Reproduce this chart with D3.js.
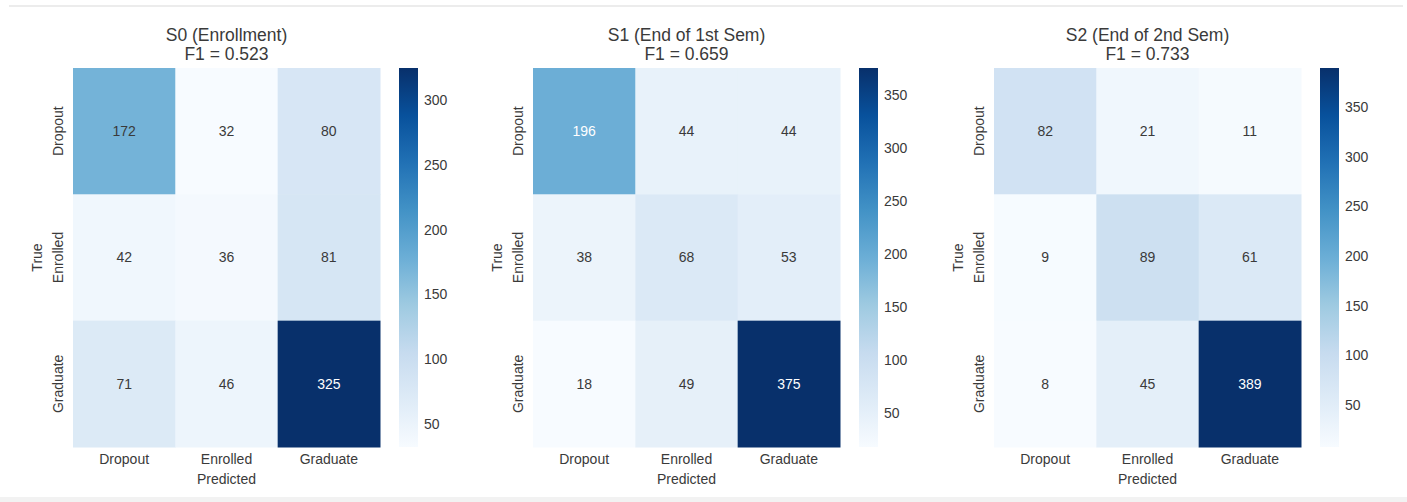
<!DOCTYPE html>
<html>
<head>
<meta charset="utf-8">
<script src="https://cdn.jsdelivr.net/npm/d3@7"></script>
<style>
  body { margin: 0; background: #fff; font-family: "Liberation Sans", Arial, sans-serif; }
  text { font-weight: normal; }
</style>
</head>
<body>
<div id="chart"></div>
<script>
// Datos de las matrices de confusión
var classes = ["Dropout", "Enrolled", "Graduate"];
var stageTitles = ["S0 (Enrollment)", "S1 (End of 1st Sem)", "S2 (End of 2nd Sem)"];
var f1Scores = ["0.523", "0.659", "0.733"];
var matrixS0 = [[172, 32, 80], [42, 36, 81], [71, 46, 325]];
var matrixS1 = [[196, 44, 44], [38, 68, 53], [18, 49, 375]];
var matrixS2 = [[82, 21, 11], [9, 89, 61], [8, 45, 389]];
var cbarTicksS0 = [50, 100, 150, 200, 250, 300];
var cbarTicksS1 = [50, 100, 150, 200, 250, 300, 350];
var cbarTicksS2 = [50, 100, 150, 200, 250, 300, 350];

var matrices = [matrixS0, matrixS1, matrixS2];
var cbarTicks = [cbarTicksS0, cbarTicksS1, cbarTicksS2];

// Paleta "Blues" (igual que matplotlib)
var bluesStops = ["#f7fbff", "#deebf7", "#c6dbef", "#9ecae1", "#6baed6", "#4292c6", "#2171b5", "#08519c", "#08306b"];
var blues = d3.scaleLinear()
    .domain(d3.range(9).map(function (i) { return i / 8; }))
    .range(bluesStops);

var W = 1407, H = 502;
var panelX = [73, 533, 994];
var marginTop = 68, hmW = 307, hmH = 379;
var cbarOffset = 326, cbarW = 19;
var textColor = "#3a3a3a";

var svg = d3.select("#chart").append("svg")
    .attr("width", W)
    .attr("height", H);

// marco gris claro de la captura
svg.append("rect").attr("x", 0).attr("y", 0).attr("width", W).attr("height", H).attr("fill", "#fff");
svg.append("line").attr("x1", 9).attr("x2", 1403).attr("y1", 6).attr("y2", 6)
    .attr("stroke", "#ececec").attr("stroke-width", 2);
svg.append("rect").attr("x", 0).attr("y", 497).attr("width", W).attr("height", 5).attr("fill", "#f2f2f2");

// luminancia relativa, para elegir el color del texto como seaborn
function luminance(c) {
    var rgb = d3.rgb(c);
    var ch = [rgb.r, rgb.g, rgb.b].map(function (v) {
        v = v / 255;
        return v <= 0.03928 ? v / 12.92 : Math.pow((v + 0.055) / 1.055, 2.4);
    });
    return 0.2126 * ch[0] + 0.7152 * ch[1] + 0.0722 * ch[2];
}

matrices.forEach(function (m, p) {
    var x0 = panelX[p];
    var g = svg.append("g").attr("transform", "translate(" + x0 + "," + marginTop + ")");

    var flat = d3.merge(m);
    var vmin = d3.min(flat), vmax = d3.max(flat);
    var color = d3.scaleLinear().domain([vmin, vmax]).range([0, 1]);

    var x = d3.scaleBand().domain(classes).range([0, hmW]);
    var y = d3.scaleBand().domain(classes).range([0, hmH]);

    var cells = [];
    m.forEach(function (row, i) {
        row.forEach(function (v, j) {
            cells.push({ t: classes[i], pr: classes[j], v: v });
        });
    });

    // celdas
    g.selectAll("rect.cell")
        .data(cells)
        .enter()
        .append("rect")
        .attr("class", "cell")
        .attr("x", function (d) { return x(d.pr); })
        .attr("y", function (d) { return y(d.t); })
        .attr("width", x.bandwidth() + 0.5)
        .attr("height", y.bandwidth() + 0.5)
        .attr("fill", function (d) { return blues(color(d.v)); });

    // anotaciones
    g.selectAll("text.annot")
        .data(cells)
        .enter()
        .append("text")
        .attr("class", "annot")
        .attr("x", function (d) { return x(d.pr) + x.bandwidth() / 2; })
        .attr("y", function (d) { return y(d.t) + y.bandwidth() / 2; })
        .attr("dy", "0.35em")
        .attr("text-anchor", "middle")
        .style("font-size", "14px")
        .attr("fill", function (d) { return luminance(blues(color(d.v))) > 0.408 ? textColor : "#fff"; })
        .text(function (d) { return d.v; });

    // etiquetas eje x
    g.selectAll("text.xtick")
        .data(classes)
        .enter()
        .append("text")
        .attr("class", "xtick")
        .attr("x", function (d) { return x(d) + x.bandwidth() / 2; })
        .attr("y", hmH + 17)
        .attr("text-anchor", "middle")
        .style("font-size", "14px")
        .attr("fill", textColor)
        .text(function (d) { return d; });

    g.append("text")
        .attr("x", hmW / 2)
        .attr("y", hmH + 37)
        .attr("text-anchor", "middle")
        .style("font-size", "14px")
        .attr("fill", textColor)
        .text("Predicted");

    // etiquetas eje y (rotadas)
    g.selectAll("text.ytick")
        .data(classes)
        .enter()
        .append("text")
        .attr("class", "ytick")
        .attr("transform", function (d) { return "translate(-10," + (y(d) + y.bandwidth() / 2) + ") rotate(-90)"; })
        .attr("text-anchor", "middle")
        .style("font-size", "14px")
        .attr("fill", textColor)
        .text(function (d) { return d; });

    g.append("text")
        .attr("transform", "translate(-31," + (hmH / 2) + ") rotate(-90)")
        .attr("text-anchor", "middle")
        .style("font-size", "14px")
        .attr("fill", textColor)
        .text("True");

    // título
    g.append("text")
        .attr("x", hmW / 2)
        .attr("y", -27)
        .attr("text-anchor", "middle")
        .style("font-size", "17.5px")
        .attr("fill", textColor)
        .text(stageTitles[p]);
    g.append("text")
        .attr("x", hmW / 2)
        .attr("y", -8)
        .attr("text-anchor", "middle")
        .style("font-size", "17.5px")
        .attr("fill", textColor)
        .text("F1 = " + f1Scores[p]);

    // barra de color
    var gradId = "grad" + p;
    var grad = svg.append("defs").append("linearGradient")
        .attr("id", gradId)
        .attr("x1", 0).attr("y1", 1).attr("x2", 0).attr("y2", 0);
    bluesStops.forEach(function (c, i) {
        grad.append("stop").attr("offset", (i / 8 * 100) + "%").attr("stop-color", c);
    });

    var cb = g.append("g").attr("transform", "translate(" + cbarOffset + ",0)");
    cb.append("rect")
        .attr("width", cbarW)
        .attr("height", hmH)
        .attr("fill", "url(#" + gradId + ")");

    var cy = d3.scaleLinear().domain([vmin, vmax]).range([hmH, 0]);
    var axis = d3.axisRight(cy).tickValues(cbarTicks[p]).tickSize(0).tickPadding(6);
    var ax = cb.append("g")
        .attr("transform", "translate(" + cbarW + ",0)")
        .call(axis);
    ax.select(".domain").remove();
    ax.selectAll("text")
        .style("font-size", "14px")
        .style("font-family", "'Liberation Sans', Arial, sans-serif")
        .attr("fill", textColor);
});
</script>
</body>
</html>
